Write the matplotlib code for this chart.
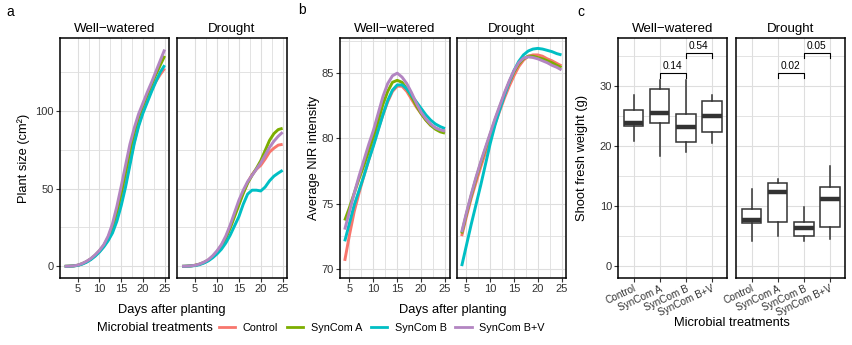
import matplotlib
matplotlib.use("Agg")
import matplotlib.pyplot as plt
from matplotlib.lines import Line2D

plt.rcParams['font.family'] = ['Liberation Sans', 'DejaVu Sans']

# ---- data ----
treatments = ["Control", "SynCom A", "SynCom B", "SynCom B+V"]
colors = ["#F8766D", "#7CAE00", "#00BFC4", "#B385C2"]

days_a = list(range(2, 26))
size_ww_control = [0, 0.1, 0.3, 0.7, 1.6, 2.9, 4.6, 6.9, 9.6, 13, 17, 22.5, 30.5, 41, 53, 67, 80, 91, 99.5, 107, 113.5, 119, 123.5, 127.3]
size_ww_a = [0, 0.1, 0.3, 0.7, 1.7, 3, 4.8, 7.1, 10, 13.5, 18.5, 25.5, 35, 47, 60.5, 74, 86, 96, 103.5, 110.5, 117, 123.5, 129.5, 135.4]
size_ww_b = [0, 0.1, 0.2, 0.6, 1.4, 2.6, 4.3, 6.5, 9.2, 12.5, 16.5, 21.5, 29, 39, 51, 65, 79, 90, 98.5, 105.5, 112.5, 119, 125, 129.4]
size_ww_bv = [0, 0.1, 0.3, 0.8, 1.8, 3.2, 5, 7.4, 10.3, 14, 19.5, 27.5, 38.5, 51.5, 65, 78.5, 89, 98, 105, 112, 118.5, 125.5, 132.5, 139.5]
size_dr_control = [0, 0.1, 0.3, 0.7, 1.4, 2.5, 4, 6.4, 9.5, 13.5, 18.5, 25.5, 33, 40.5, 47.5, 54, 59, 62.5, 65, 69, 73.5, 76, 78, 78.5]
size_dr_a = [0, 0.1, 0.3, 0.7, 1.4, 2.5, 4, 6.3, 9.3, 13, 18, 24.5, 32, 39.5, 47, 53.5, 58.5, 63, 68, 74.5, 81, 85.4, 88, 88.8]
size_dr_b = [0, 0.1, 0.2, 0.5, 1.1, 2.1, 3.5, 5.5, 8, 11, 15, 20, 26, 32, 40, 46.5, 49, 49, 48.5, 51, 55, 58, 60, 61.8]
size_dr_bv = [0, 0.1, 0.3, 0.7, 1.5, 2.7, 4.3, 6.8, 10, 14, 19.5, 26.5, 34.5, 42.5, 49, 54.5, 58.5, 62.5, 66.5, 71.5, 76.5, 80.5, 83.7, 86.3]

days_b = list(range(4, 26))
nir_ww_control = [70.6, 72.6, 74.4, 75.8, 77.1, 78.3, 79.5, 80.7, 81.8, 82.8, 83.6, 84.0, 84.0, 83.6, 83.0, 82.4, 81.9, 81.4, 81.0, 80.8, 80.6, 80.55]
nir_ww_a = [73.7, 74.7, 75.8, 76.9, 77.9, 79.0, 80.1, 81.3, 82.6, 83.6, 84.3, 84.45, 84.3, 83.8, 83.2, 82.5, 81.9, 81.4, 81.0, 80.7, 80.5, 80.4]
nir_ww_b = [72.1, 73.5, 74.9, 76.0, 77.1, 78.3, 79.4, 80.6, 81.8, 82.9, 83.7, 84.1, 84.1, 83.8, 83.3, 82.8, 82.3, 81.8, 81.4, 81.1, 80.9, 80.75]
nir_ww_bv = [73.0, 74.4, 75.8, 77.1, 78.3, 79.5, 80.6, 81.9, 83.2, 84.2, 84.8, 85.0, 84.7, 84.2, 83.5, 82.7, 82.0, 81.5, 81.1, 80.8, 80.65, 80.55]
nir_dr_control = [72.5, 74.0, 75.4, 76.6, 77.8, 78.9, 80.0, 81.1, 82.1, 83.1, 84.0, 84.8, 85.5, 86.0, 86.3, 86.4, 86.4, 86.3, 86.1, 85.95, 85.75, 85.56]
nir_dr_a = [72.7, 74.2, 75.6, 76.9, 78.1, 79.2, 80.3, 81.4, 82.4, 83.4, 84.3, 85.1, 85.7, 86.1, 86.3, 86.3, 86.2, 86.1, 85.95, 85.8, 85.6, 85.43]
nir_dr_b = [70.2, 71.8, 73.4, 74.9, 76.4, 78.0, 79.6, 81.0, 82.2, 83.3, 84.3, 85.2, 85.9, 86.4, 86.7, 86.85, 86.9, 86.85, 86.75, 86.65, 86.5, 86.4]
nir_dr_bv = [72.8, 74.3, 75.7, 77.0, 78.2, 79.3, 80.4, 81.5, 82.5, 83.5, 84.4, 85.2, 85.8, 86.15, 86.25, 86.2, 86.1, 85.95, 85.8, 85.6, 85.45, 85.25]

# shoot fresh weight box stats (Control, A, B, B+V)
ww_whislo = [20.9, 18.4, 19.0, 20.5]
ww_q1 = [23.3, 23.8, 20.7, 22.3]
ww_med = [23.8, 25.5, 23.1, 25.0]
ww_q3 = [26.0, 29.5, 25.3, 27.4]
ww_whishi = [28.4, 30.9, 30.9, 28.5]
dr_whislo = [4.2, 5.0, 4.2, 4.5]
dr_q1 = [7.2, 7.4, 5.1, 6.5]
dr_med = [7.7, 12.3, 6.4, 11.2]
dr_q3 = [9.5, 13.9, 7.4, 13.1]
dr_whishi = [12.9, 14.5, 9.9, 16.7]

ww_pvals = [("SynCom A", "SynCom B", 32.1, "0.14"), ("SynCom B", "SynCom B+V", 35.4, "0.54")]
dr_pvals = [("SynCom A", "SynCom B", 32.1, "0.02"), ("SynCom B", "SynCom B+V", 35.4, "0.05")]

# ---- figure ----
W, H = 853, 345
fig = plt.figure(figsize=(W / 100, H / 100), dpi=100)
TOP, BOT = 37.7, 277.7
GRID = "#DEDEDE"


def panel(x0, x1, show_y=True):
    ax = fig.add_axes([x0 / W, 1 - BOT / H, (x1 - x0) / W, (BOT - TOP) / H])
    ax.set_axisbelow(True)
    for s in ax.spines.values():
        s.set_linewidth(1.1)
        s.set_color("black")
    ax.tick_params(length=2.75, width=0.8, color="#333333", labelsize=8,
                   labelcolor="#333333", pad=1.5)
    ax.tick_params(which="minor", length=0)
    ax.grid(which="major", color=GRID, lw=0.8)
    ax.grid(which="minor", color=GRID, lw=0.6)
    if not show_y:
        ax.tick_params(axis="y", left=False, labelleft=False)
    return ax


def draw_curves(ax, x, series, xlim, ylim, yticks, yminor):
    for ys, c in zip(series, colors):
        ax.plot(x, ys, color=c, lw=2.1, solid_capstyle="butt")
    ax.set_xlim(*xlim)
    ax.set_ylim(*ylim)
    ax.set_xticks([5, 10, 15, 20, 25])
    ax.set_xticks([7.5, 12.5, 17.5, 22.5], minor=True)
    ax.set_yticks(yticks)
    ax.set_yticks(yminor, minor=True)


# panel a
a1 = panel(59.7, 169)
draw_curves(a1, days_a, [size_ww_control, size_ww_a, size_ww_b, size_ww_bv],
            (0.85, 26.0), (-7.3, 147.1), [0, 50, 100], [25, 75, 125])
a2 = panel(177, 287, show_y=False)
draw_curves(a2, days_a, [size_dr_control, size_dr_a, size_dr_b, size_dr_bv],
            (0.85, 26.0), (-7.3, 147.1), [0, 50, 100], [25, 75, 125])

# panel b
b1 = panel(339.7, 450)
draw_curves(b1, days_b, [nir_ww_control, nir_ww_a, nir_ww_b, nir_ww_bv],
            (2.95, 26.05), (69.31, 87.72), [70, 75, 80, 85], [72.5, 77.5, 82.5, 87.5])
b2 = panel(456.7, 566.5, show_y=False)
draw_curves(b2, days_b, [nir_dr_control, nir_dr_a, nir_dr_b, nir_dr_bv],
            (2.95, 26.05), (69.31, 87.72), [70, 75, 80, 85], [72.5, 77.5, 82.5, 87.5])


# panel c
def draw_box(ax, whislo, q1, med, q3, whishi, pvals):
    stats = []
    for i in range(len(treatments)):
        stats.append(dict(whislo=whislo[i], q1=q1[i], med=med[i], q3=q3[i],
                          whishi=whishi[i], fliers=[]))
    pos = list(range(1, len(treatments) + 1))
    ax.bxp(stats, positions=pos, widths=0.75, showcaps=False, patch_artist=True,
           boxprops=dict(facecolor="white", edgecolor="#333333", lw=1.1),
           whiskerprops=dict(color="#333333", lw=1.1),
           medianprops=dict(color="#333333", lw=3.2, solid_capstyle="butt"))
    for g1, g2, y, lab in pvals:
        x1 = treatments.index(g1) + 1
        x2 = treatments.index(g2) + 1
        ax.plot([x1, x1, x2, x2], [y - 0.8, y, y, y - 0.8], color="black", lw=0.8)
        ax.text((x1 + x2) / 2, y + 0.35, lab, ha="center", va="bottom", fontsize=7.3)
    ax.set_xlim(0.4, 4.6)
    ax.set_ylim(-1.9, 38)
    ax.set_yticks([0, 10, 20, 30])
    ax.set_yticks([5, 15, 25, 35], minor=True)
    ax.set_xticks(pos)
    ax.set_xticklabels(treatments, rotation=25, ha="right", rotation_mode="anchor",
                       fontsize=7.2)


c1 = panel(618, 727.5)
draw_box(c1, ww_whislo, ww_q1, ww_med, ww_q3, ww_whishi, ww_pvals)
c2 = panel(736, 845.5, show_y=False)
draw_box(c2, dr_whislo, dr_q1, dr_med, dr_q3, dr_whishi, dr_pvals)

# strip titles
for ax, t in [(a1, "Well\u2212watered"), (a2, "Drought"), (b1, "Well\u2212watered"),
              (b2, "Drought"), (c1, "Well\u2212watered"), (c2, "Drought")]:
    ax.set_title(t, fontsize=9.6, pad=4)

# axis titles
fs_lab = 9.3
fig.text(172 / W, 1 - 310 / H, "Days after planting", ha="center", va="center", fontsize=fs_lab)
fig.text(453 / W, 1 - 310 / H, "Days after planting", ha="center", va="center", fontsize=fs_lab)
fig.text(732 / W, 1 - 323 / H, "Microbial treatments", ha="center", va="center", fontsize=fs_lab)
fig.text(24 / W, 1 - 158 / H, "Plant size (cm\u00b2)", rotation=90, ha="center", va="center", fontsize=fs_lab)
fig.text(314 / W, 1 - 158 / H, "Average NIR intensity", rotation=90, ha="center", va="center", fontsize=fs_lab)
fig.text(582 / W, 1 - 158 / H, "Shoot fresh weight (g)", rotation=90, ha="center", va="center", fontsize=fs_lab)

# panel letters
for x, y, s in [(10.5, 11.5, "a"), (302, 10.5, "b"), (581, 11.5, "c")]:
    fig.text(x / W, 1 - y / H, s, ha="center", va="center", fontsize=10)

# legend
fig.text(97 / W, 1 - 328 / H, "Microbial treatments", ha="left", va="center", fontsize=fs_lab)
handles = [Line2D([], [], color=c, lw=2) for c in colors]
fig.legend(handles, treatments, loc="center left", bbox_to_anchor=(219 / W, 1 - 328 / H),
           ncol=4, frameon=False, fontsize=7.8, handlelength=1.5, handletextpad=0.7,
           columnspacing=0.8, borderpad=0, borderaxespad=0)

fig.savefig("out.png", dpi=100)
